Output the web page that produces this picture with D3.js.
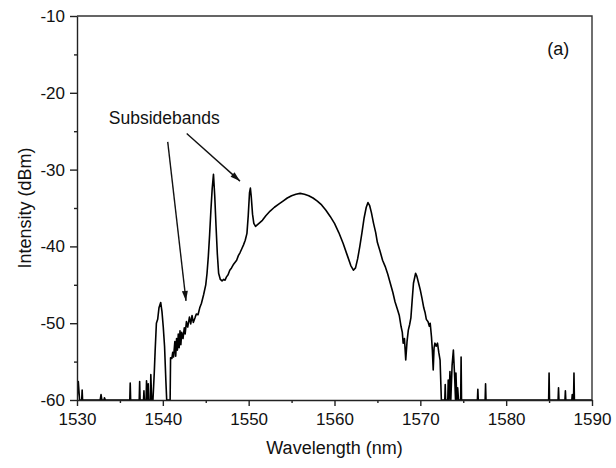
<!DOCTYPE html>
<html lang="en">
<head>
    <meta charset="UTF-8">
    <title>Spectrum</title>
    <script src="https://d3js.org/d3.v7.min.js"></script>
    <style>
        body {
            margin: 0;
            padding: 0;
            background-color: #fff;
        }
        svg {
            display: block;
            font-family: "Liberation Sans", Arial, sans-serif;
        }
        .axis text {
            font-size: 17px;
            fill: #111;
        }
        .axis path, .axis line {
            stroke: #222;
            stroke-width: 1.4px;
        }
    </style>
</head>
<body>
    <svg id="chart"></svg>

    <script>
        // spectrum: [wavelength nm, intensity dBm]
        const noiseLeft = [
            [1530.0, -60], [1530.15, -57.6], [1530.3, -60], [1530.55, -60], [1530.6, -58.7], [1530.65, -60],
            [1532.7, -60], [1532.8, -59.3], [1532.9, -60], [1533.15, -60], [1533.2, -59.7], [1533.3, -60],
            [1536.15, -60], [1536.2, -57.8], [1536.25, -60], [1537.25, -60], [1537.3, -57.6], [1537.35, -60],
            [1537.75, -60], [1537.8, -58.8], [1537.85, -60], [1538.05, -60], [1538.1, -57.5], [1538.2, -60],
            [1538.3, -57.9], [1538.35, -60], [1538.55, -60], [1538.6, -56.7], [1538.7, -60], [1538.85, -60]
        ];
        const bandLeft = [
            [1539.0, -56.5], [1539.1, -53.7], [1539.25, -50.0], [1539.4, -49.5], [1539.55, -48.0],
            [1539.75, -47.3], [1539.9, -48.5], [1540.05, -50.5], [1540.2, -53.0], [1540.35, -57.4],
            [1540.45, -60], [1540.85, -60], [1540.9, -54.5], [1541.05, -54.6], [1541.15, -53.8],
            [1541.25, -54.4], [1541.4, -52.4], [1541.5, -54.3], [1541.6, -52.0], [1541.7, -53.5],
            [1541.8, -51.4], [1541.9, -53.2], [1542.0, -51.0], [1542.1, -52.8], [1542.2, -51.2],
            [1542.35, -52.0], [1542.5, -50.6], [1542.6, -51.4], [1542.75, -49.8], [1542.9, -50.5],
            [1543.1, -49.2], [1543.25, -50.1], [1543.4, -49.0], [1543.55, -49.9], [1543.75, -49.3],
            [1543.9, -48.8], [1544.1, -48.9], [1544.3, -48.0], [1544.5, -47.4], [1544.75, -46.3],
            [1545.0, -45.0], [1545.15, -43.5], [1545.3, -41.3], [1545.45, -38.5], [1545.6, -35.3],
            [1545.75, -32.5], [1545.9, -30.6], [1546.05, -33.5], [1546.2, -37.4], [1546.35, -41.0],
            [1546.5, -43.5], [1546.7, -44.3], [1546.9, -44.5], [1547.1, -44.3], [1547.25, -44.4],
            [1547.4, -44.0], [1547.6, -43.7], [1547.8, -43.1], [1548.0, -42.8], [1548.2, -42.4],
            [1548.4, -42.1], [1548.6, -41.8], [1548.8, -41.2], [1549.0, -40.8], [1549.2, -40.3],
            [1549.4, -39.8], [1549.6, -39.2], [1549.8, -38.3], [1549.95, -36.0], [1550.1, -33.0],
            [1550.2, -32.4], [1550.3, -33.5], [1550.45, -35.8], [1550.6, -37.0], [1550.8, -37.4]
        ];
        const bandCentre = [
            [1551.0, -37.2], [1551.3, -36.9], [1551.6, -36.6], [1552.0, -36.0], [1552.5, -35.4],
            [1553.0, -34.9], [1553.5, -34.5], [1554.0, -34.1], [1554.5, -33.7], [1555.0, -33.4],
            [1555.5, -33.2], [1556.0, -33.1], [1556.5, -33.2], [1557.0, -33.4], [1557.5, -33.7],
            [1558.0, -34.1], [1558.5, -34.6], [1559.0, -35.3], [1559.5, -36.1], [1560.0, -37.0],
            [1560.5, -38.2], [1561.0, -39.6], [1561.5, -41.2], [1561.9, -42.5], [1562.2, -43.1],
            [1562.45, -42.8], [1562.7, -41.6], [1562.95, -40.0], [1563.2, -38.2], [1563.45, -36.3],
            [1563.7, -34.9], [1563.9, -34.3], [1564.1, -34.7], [1564.3, -35.6], [1564.55, -37.0],
            [1564.8, -38.2], [1565.0, -39.5], [1565.3, -40.6], [1565.6, -41.8], [1565.9, -42.6]
        ];
        const bandRight = [
            [1566.2, -43.6], [1566.5, -44.8], [1566.8, -46.0], [1567.05, -47.2], [1567.3, -48.1],
            [1567.55, -49.0], [1567.75, -50.4], [1567.9, -51.2], [1568.0, -52.6], [1568.15, -52.0],
            [1568.3, -54.8], [1568.45, -52.4], [1568.6, -50.9], [1568.75, -50.2], [1568.9, -49.3],
            [1569.05, -47.0], [1569.2, -44.8], [1569.45, -43.5], [1569.6, -43.9], [1569.8, -44.8],
            [1570.0, -45.7], [1570.2, -46.8], [1570.4, -48.0], [1570.55, -48.6], [1570.7, -49.5],
            [1570.9, -49.8], [1571.05, -50.4], [1571.15, -50.0], [1571.3, -51.8], [1571.4, -53.5],
            [1571.5, -56.1], [1571.6, -53.2], [1571.7, -52.6], [1571.85, -53.0], [1572.0, -52.6],
            [1572.15, -53.8], [1572.3, -54.8], [1572.45, -60]
        ];
        const noiseRight = [
            [1572.85, -60], [1572.9, -58.0], [1572.95, -60], [1573.2, -60], [1573.25, -57.4],
            [1573.35, -60], [1573.45, -56.3], [1573.55, -60], [1573.7, -55.5], [1573.85, -53.5],
            [1574.0, -57.0], [1574.1, -60], [1574.15, -56.5], [1574.25, -60], [1574.35, -58.4],
            [1574.45, -60], [1574.7, -60], [1574.75, -54.4], [1574.8, -60],
            [1576.65, -60], [1576.7, -58.6], [1576.75, -60], [1577.55, -60], [1577.6, -57.9], [1577.65, -60],
            [1584.95, -60], [1585.0, -56.5], [1585.05, -60], [1586.05, -60], [1586.1, -58.4], [1586.15, -60],
            [1586.85, -60], [1586.9, -58.8], [1586.95, -60], [1587.65, -60], [1587.7, -59.3], [1587.75, -60],
            [1587.85, -60], [1587.9, -56.5], [1587.95, -60], [1590.0, -60]
        ];

        const xTicks = [1530, 1540, 1550, 1560, 1570, 1580, 1590];
        const xMinor = [1535, 1545, 1555, 1565, 1575, 1585];
        const yTicks = [-60, -50, -40, -30, -20, -10];
        const yMinor = [-55, -45, -35, -25, -15];

        // annotation, in data units: [fromX, fromY, toX, toY]
        const arrows = [
            [1540.57, -26.4, 1542.70, -47.1],
            [1542.78, -25.3, 1548.99, -31.5]
        ];
        const labels = [
            { text: "Subsidebands", x: 1533.7, y: -24.1, size: 17.5 },
            { text: "(a)", x: 1584.8, y: -15.1, size: 18 }
        ];

        const width = 616, height = 468;
        const margin = { top: 16, right: 24, bottom: 68, left: 77 };

        const svg = d3.select("#chart").attr("width", width).attr("height", height);

        const x = d3.scaleLinear().domain([1530, 1590]).range([margin.left, width - margin.right]);
        const y = d3.scaleLinear().domain([-60, -10]).range([height - margin.bottom, margin.top]);

        svg.append("defs").append("clipPath").attr("id", "plot")
            .append("rect")
            .attr("x", x(1530)).attr("y", y(-10))
            .attr("width", x(1590) - x(1530)).attr("height", y(-60) - y(-10) + 1);

        svg.append("defs").append("marker")
            .attr("id", "head")
            .attr("viewBox", "0 0 10 6")
            .attr("refX", 10).attr("refY", 3)
            .attr("markerWidth", 11).attr("markerHeight", 6)
            .attr("markerUnits", "userSpaceOnUse")
            .attr("orient", "auto")
            .append("path")
            .attr("d", "M0,0L10,3L0,6Z")
            .attr("fill", "#111");

        const spectrum = noiseLeft.concat(bandLeft, bandCentre, bandRight, noiseRight);

        const line = d3.line()
            .x(d => x(d[0]))
            .y(d => y(d[1]));

        svg.append("path")
            .datum(spectrum)
            .attr("clip-path", "url(#plot)")
            .attr("d", line)
            .attr("fill", "none")
            .attr("stroke", "#000")
            .attr("stroke-width", 1.6)
            .attr("stroke-linejoin", "round");

        // frame: top and right
        svg.append("path")
            .attr("d", `M${x(1530)},${y(-10)}H${x(1590)}V${y(-60)}`)
            .attr("fill", "none")
            .attr("stroke", "#333")
            .attr("stroke-width", 1.4);

        svg.append("g")
            .attr("class", "axis")
            .attr("transform", `translate(0,${y(-60)})`)
            .call(d3.axisBottom(x).tickValues(xMinor).tickSize(3).tickFormat(""))
            .call(g => g.select(".domain").remove());

        svg.append("g")
            .attr("class", "axis")
            .attr("transform", `translate(0,${y(-60)})`)
            .call(d3.axisBottom(x).tickValues(xTicks).tickSize(6).tickPadding(7).tickSizeOuter(0).tickFormat(d3.format("d")));

        svg.append("g")
            .attr("class", "axis")
            .attr("transform", `translate(${x(1530)},0)`)
            .call(d3.axisLeft(y).tickValues(yMinor).tickSize(3).tickFormat(""))
            .call(g => g.select(".domain").remove());

        svg.append("g")
            .attr("class", "axis")
            .attr("transform", `translate(${x(1530)},0)`)
            .call(d3.axisLeft(y).tickValues(yTicks).tickSize(7).tickPadding(5).tickSizeOuter(0)
                .tickFormat(d => d3.format("d")(d).replace("−", "-")));

        svg.append("text")
            .attr("x", (x(1530) + x(1590)) / 2)
            .attr("y", 454)
            .attr("text-anchor", "middle")
            .attr("font-size", 18)
            .attr("fill", "#111")
            .text("Wavelength (nm)");

        svg.append("text")
            .attr("transform", `translate(31,${(y(-10) + y(-60)) / 2}) rotate(-90)`)
            .attr("text-anchor", "middle")
            .attr("font-size", 18)
            .attr("fill", "#111")
            .text("Intensity (dBm)");

        svg.selectAll(".arrow")
            .data(arrows)
            .enter()
            .append("line")
            .attr("class", "arrow")
            .attr("x1", d => x(d[0])).attr("y1", d => y(d[1]))
            .attr("x2", d => x(d[2])).attr("y2", d => y(d[3]))
            .attr("stroke", "#111")
            .attr("stroke-width", 1.4)
            .attr("marker-end", "url(#head)");

        svg.selectAll(".note")
            .data(labels)
            .enter()
            .append("text")
            .attr("class", "note")
            .attr("x", d => x(d.x))
            .attr("y", d => y(d.y))
            .attr("font-size", d => d.size)
            .attr("fill", "#111")
            .text(d => d.text);
    </script>
</body>
</html>
